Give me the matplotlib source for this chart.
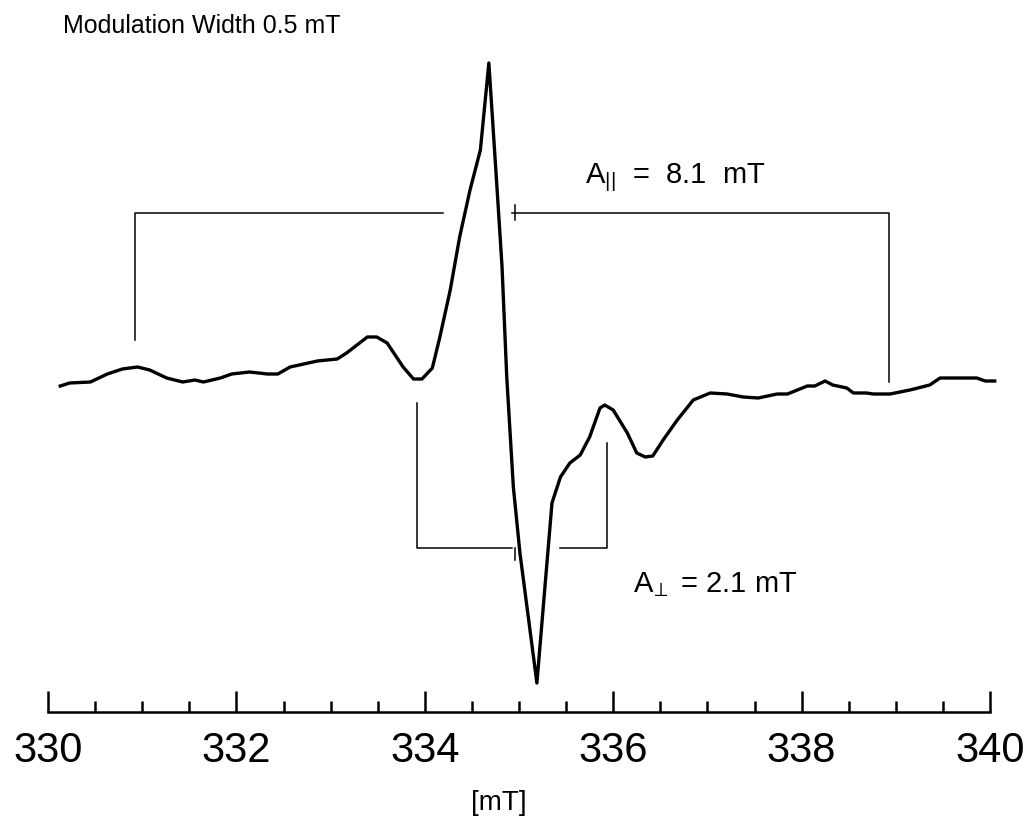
import matplotlib.pyplot as plt

plt.rcParams['font.family'] = ['Liberation Sans', 'DejaVu Sans']
plt.rcParams['mathtext.default'] = 'regular'

#############   data   #############

# magnetic field [mT]
field = [330.13, 330.23, 330.45, 330.63, 330.79, 330.95, 331.08, 331.26, 331.43, 331.56,
         331.65, 331.83, 331.95, 332.14, 332.33, 332.44, 332.57, 332.86, 333.07, 333.17,
         333.39, 333.49, 333.60, 333.77, 333.88, 333.97, 334.08, 334.16, 334.27, 334.37,
         334.48, 334.59, 334.68, 334.77, 334.82, 334.87, 334.94, 335.01, 335.19, 335.35,
         335.44, 335.54, 335.65, 335.75, 335.86, 335.91, 336.00, 336.15, 336.25, 336.34,
         336.42, 336.53, 336.68, 336.85, 337.03, 337.21, 337.38, 337.54, 337.74, 337.85,
         338.06, 338.14, 338.25, 338.33, 338.48, 338.55, 338.69, 338.76, 338.94, 339.15,
         339.36, 339.47, 339.86, 339.95, 340.05]

# first-derivative EPR signal (arbitrary units)
signal = [-4, -1, 0, 8, 13, 15, 12, 4, 0, 2,
          0, 4, 8, 10, 8, 8, 15, 21, 23, 29,
          45, 45, 39, 15, 3, 3, 14, 45, 92, 145,
          192, 232, 319, 189, 115, 5, -105, -171, -301, -121,
          -95, -81, -73, -55, -26, -23, -28, -51, -71, -75,
          -74, -58, -38, -18, -11, -12, -15, -16, -12, -12,
          -4, -4, 1, -3, -6, -11, -11, -12, -12, -8,
          -3, 4, 4, 1, 1]

major_ticks = [330, 332, 334, 336, 338, 340]
minor_ticks = [330 + 0.5 * i for i in range(21)]

# hyperfine splitting brackets
a_par = (330.92, 338.93)     # A|| = 8.1 mT
a_perp = (333.92, 335.93)    # A_perp = 2.1 mT
center = 334.96

#############   plot   #############

fig = plt.figure(figsize=(10.34, 8.27), dpi=100)
ax = fig.add_axes([48 / 1034, 0, 942 / 1034, 1])
ax.set_xlim(330, 340)
ax.set_ylim(-445, 382)

ax.plot(field, signal, color='black', lw=2.4, solid_joinstyle='round', clip_on=False)

# A|| bracket
kw = dict(color='black', lw=1.1)
ax.plot([a_par[0], a_par[0], 334.19], [42, 169, 169], **kw)
ax.plot([334.93, a_par[1], a_par[1]], [169, 169, 0], **kw)
ax.plot([center, center], [162, 177], **kw)

# A_perp bracket
ax.plot([a_perp[0], a_perp[0], 334.93], [-21, -166, -166], **kw)
ax.plot([335.44, a_perp[1], a_perp[1]], [-166, -166, -61], **kw)
ax.plot([center, center], [-166, -178], **kw)

ax.text(335.70, 199, r'A$_{||}$  =  8.1  mT', fontsize=21)
ax.text(336.21, -210, r'A$_{\!\perp}$ = 2.1 mT', fontsize=21)
fig.text(63 / 1034, 1 - 33 / 827, 'Modulation Width 0.5 mT', fontsize=18)

# axis
for s in ['left', 'right', 'top']:
    ax.spines[s].set_visible(False)
ax.spines['bottom'].set_position(('data', -330))
ax.spines['bottom'].set_linewidth(1.8)
ax.set_yticks([])
ax.set_xticks(major_ticks)
ax.set_xticks(minor_ticks, minor=True)
ax.tick_params(axis='x', which='major', direction='in', length=15, width=1.8,
               labelsize=30, pad=14)
ax.tick_params(axis='x', which='minor', direction='in', length=8, width=1.8)
ax.set_xlabel('[mT]', fontsize=20, labelpad=13)
ax.xaxis.label.set_x((499 - 48) / 942)
ax.patch.set_visible(False)

fig.savefig('out.png', dpi=100)
